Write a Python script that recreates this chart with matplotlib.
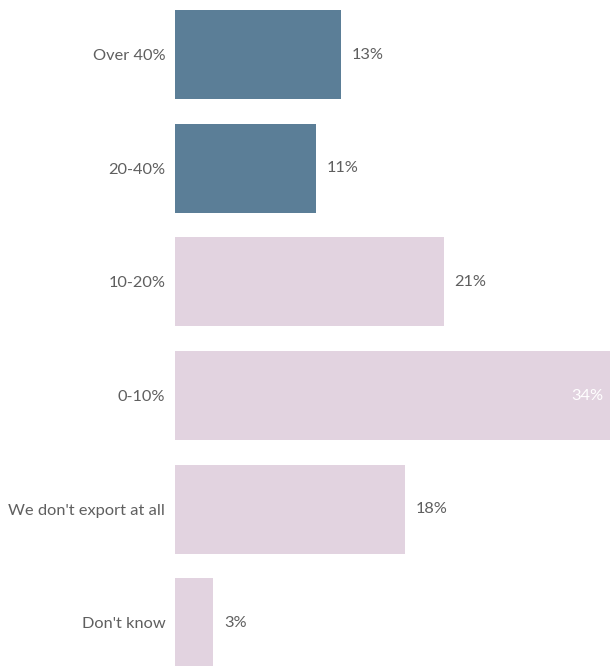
import matplotlib
matplotlib.use("Agg")
import matplotlib.pyplot as plt

categories = ["Over 40%", "20-40%", "10-20%", "0-10%", "We don't export at all", "Don't know"]
values = [13, 11, 21, 34, 18, 3]
colors = ["#5b7e97", "#5b7e97", "#e2d3e0", "#e2d3e0", "#e2d3e0", "#e2d3e0"]

plt.rcParams["font.family"] = ["Lato", "DejaVu Sans"]
text_color = "#5f5f5f"

fig = plt.figure(figsize=(6.1, 6.66), dpi=100)
ax = fig.add_axes([175 / 610, 0, 435 / 610, 1])

pos = list(range(len(categories)))
ax.barh(pos, values, height=0.783, color=colors)
ax.set_xlim(0, max(values))
ax.set_ylim(5.38, -0.48)

for y, v in zip(pos, values):
    if v == max(values):
        ax.text(v - 0.5, y, f"{v}%", ha="right", va="center", color="white", fontsize=11.8)
    else:
        ax.text(v + 0.85, y, f"{v}%", ha="left", va="center", color=text_color, fontsize=11.8)

ax.set_yticks(pos)
ax.set_yticklabels(categories, fontsize=11.8, color=text_color)
ax.tick_params(axis="y", length=0, pad=7)
ax.set_xticks([])
for s in ax.spines.values():
    s.set_visible(False)

fig.savefig("out.png", dpi=100)
